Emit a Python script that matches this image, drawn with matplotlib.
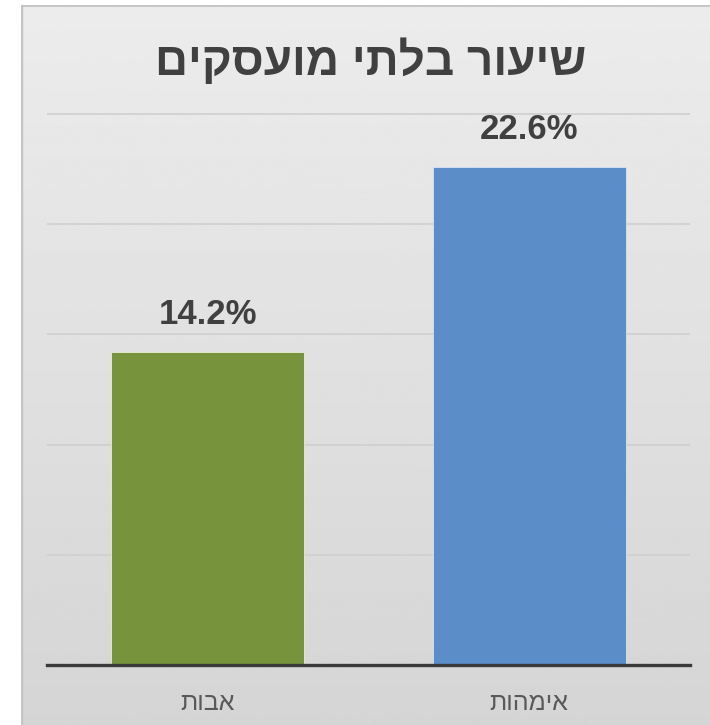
import numpy as np
import matplotlib
matplotlib.use("Agg")
import matplotlib.pyplot as plt

# === DATA ===
categories = ["אבות", "אימהות"]
values = [14.2, 22.6]
bar_colors = ["#77933C", "#5B8DC8"]
title = "שיעור בלתי מועסקים"
y_ticks = [0, 5, 10, 15, 20, 25]

plt.rcParams['font.family'] = ['Liberation Sans', 'DejaVu Sans']


def rtl(s):
    # matplotlib has no bidi support, so flip Hebrew to visual order
    return s[::-1]


fig = plt.figure(figsize=(7.1, 7.25), dpi=100)
fig.patch.set_facecolor("white")

# === BACKGROUND (light grey gradient panel) ===
bg = fig.add_axes([21 / 710, 0, 1 - 21 / 710, 720 / 725], zorder=0)
grad = np.linspace(0.925, 0.835, 256).reshape(-1, 1)
bg.imshow(grad, cmap="gray", vmin=0, vmax=1, aspect="auto",
          extent=[0, 1, 0, 1], origin="upper")
bg.set_xlim(0, 1)
bg.set_ylim(0, 1)
bg.axis("off")
bg.plot([0, 0], [0, 1], color="#c4c4c4", lw=2.5, transform=bg.transAxes)
bg.plot([0, 1], [1, 1], color="#c4c4c4", lw=2.0, transform=bg.transAxes)

# === MAIN CHART ===
ax = fig.add_axes([47 / 710, 60 / 725, 643 / 710, 552 / 725], zorder=1)
ax.set_facecolor("none")
x = np.arange(len(categories))
bars = ax.bar(x, values, width=0.6, color=bar_colors,
              edgecolor="#e6f0d0", linewidth=0.6, zorder=3)
bars[1].set_edgecolor("#d6e4f5")

ax.set_xlim(-0.5, 1.5)
ax.set_ylim(0, 25.05)
ax.set_yticks(y_ticks)
ax.set_yticklabels([])
ax.tick_params(axis="y", length=0)
ax.yaxis.grid(True, color="#cfcfcf", lw=1.2, zorder=0)
ax.set_axisbelow(True)

for s in ["top", "left", "right"]:
    ax.spines[s].set_visible(False)
ax.spines["bottom"].set_color("#3a3a3a")
ax.spines["bottom"].set_linewidth(2.4)
ax.spines["bottom"].set_zorder(4)

ax.set_xticks(x)
ax.set_xticklabels([rtl(c) for c in categories], fontsize=18, color="#595959")
ax.tick_params(axis="x", length=0, pad=19)

for xi, v in zip(x, values):
    ax.annotate(f"{v:.1f}%", (xi, v), xytext=(0, 27), textcoords="offset points",
                ha="center", va="center", fontsize=25, fontweight="bold",
                color="#404040")

fig.text(371 / 710, 1 - 62 / 725, rtl(title), ha="center", va="center",
         fontsize=33, fontweight="bold", color="#404040")

fig.savefig("out.png", dpi=100)
